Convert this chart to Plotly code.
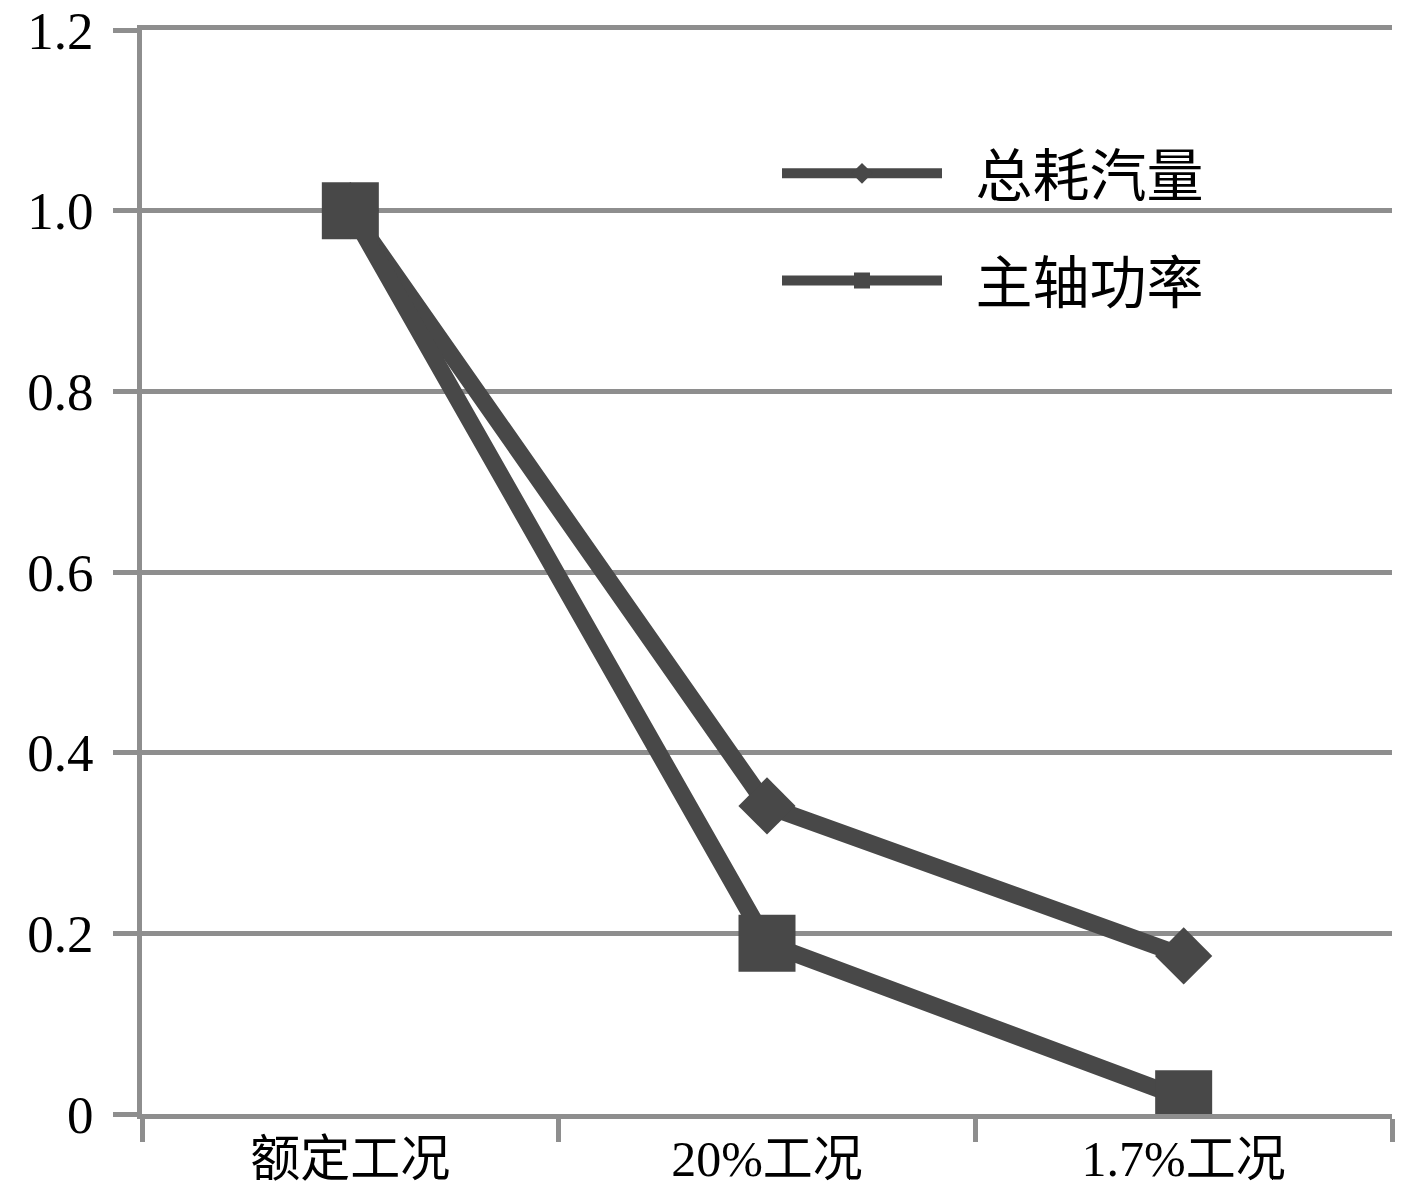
import plotly.graph_objects as go

categories = ["额定工况", "20%工况", "1.7%工况"]
steam_total = [1.0, 0.341, 0.175]
shaft_power = [1.0, 0.189, 0.017]
series_names = ["总耗汽量", "主轴功率"]
y_tickvals = [0, 0.2, 0.4, 0.6, 0.8, 1.0, 1.2]
y_ticktext = ["0", "0.2", "0.4", "0.6", "0.8", "1.0", "1.2"]

LINE = "#484848"
GRID = "#8e8e8e"

fig = go.Figure()
fig.add_trace(go.Scatter(x=categories, y=steam_total, name="  " + series_names[0], mode="lines+markers",
                         legendgroup="a",
                         line=dict(color=LINE, width=17),
                         marker=dict(symbol="diamond", size=44, color=LINE)))
fig.add_trace(go.Scatter(x=categories, y=shaft_power, name="  " + series_names[1], mode="lines+markers",
                         legendgroup="b",
                         line=dict(color=LINE, width=17),
                         marker=dict(symbol="square", size=57, color=LINE)))

fig.update_layout(
    width=1417, height=1193,
    margin=dict(l=142, r=25, t=30, b=79, autoexpand=False),
    plot_bgcolor="white", paper_bgcolor="white",
    font=dict(family="Liberation Serif, Noto Sans CJK SC", color="black"),
    legend=dict(x=0.508, y=0.908, xanchor="left", yanchor="top",
                font=dict(size=57, family="Liberation Serif, Noto Sans CJK SC"),
                traceorder="grouped", tracegroupgap=30, itemsizing="trace",
                itemwidth=160, bgcolor="rgba(0,0,0,0)"),
    xaxis=dict(type="category", tickson="boundaries", ticks="outside", ticklen=23,
               tickwidth=5, tickcolor=GRID, showgrid=False,
               showline=True, mirror=True, linecolor=GRID, linewidth=5,
               zeroline=False, range=[-0.5, 2.5], automargin=False,
               tickfont=dict(size=50, family="Liberation Serif, Noto Sans CJK SC"),
               ticklabelstandoff=-3, ticklabeloverflow="allow"),
    yaxis=dict(range=[0, 1.2], tickvals=y_tickvals, ticktext=y_ticktext,
               ticks="outside", ticklen=24, tickwidth=5, tickcolor=GRID,
               showgrid=True, gridcolor=GRID, gridwidth=5,
               showline=True, linecolor=GRID, linewidth=5,
               zeroline=True, zerolinecolor=GRID, zerolinewidth=5,
               tickfont=dict(size=53, family="Liberation Serif"),
               ticklabelstandoff=9, automargin=False, ticklabeloverflow="allow"),
    showlegend=True,
)

fig.write_html("out.html", config={"displayModeBar": False},
               post_script="document.body.style.margin='0';document.body.style.overflow='hidden';")
